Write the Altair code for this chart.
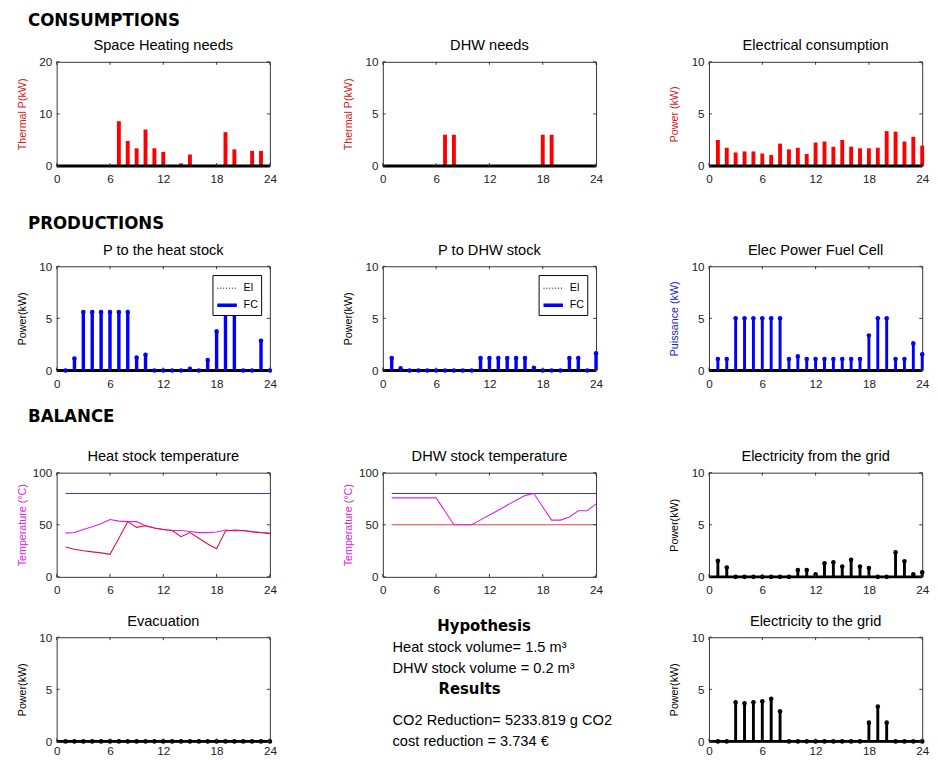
import altair as alt
import pandas as pd

# ---------------- data ----------------
hours = [1, 2, 3, 4, 5, 6, 7, 8, 9, 10, 11, 12, 13, 14, 15, 16, 17, 18, 19, 20, 21, 22, 23, 24]
x_ticks = [0, 6, 12, 18, 24]

# Space heating needs (kW)
sh_hours = [7, 8, 9, 10, 11, 12, 14, 15, 19, 20, 22, 23]
sh_vals = [8.6, 4.8, 3.4, 7.0, 3.4, 2.7, 0.5, 2.2, 6.5, 3.2, 2.9, 2.9]

# DHW needs (kW)
dhw_hours = [7, 8, 18, 19]
dhw_vals = [3.0, 3.0, 3.0, 3.0]

# Electrical consumption (kW), hours 1..24
elec_cons = [2.5, 1.75, 1.3, 1.4, 1.4, 1.2, 1.05, 2.15, 1.6, 1.75, 1.15, 2.25,
             2.35, 1.85, 2.5, 1.85, 1.7, 1.7, 1.75, 3.35, 3.3, 2.35, 2.8, 1.95]

# P to the heat stock (kW)
heat_fc = [0, 1.15, 5.6, 5.6, 5.6, 5.6, 5.6, 5.6, 1.25, 1.5, 0, 0,
           0, 0, 0.15, 0, 1.0, 3.75, 5.6, 5.6, 0, 0, 2.85, 0]
heat_el = [0, 0, 0, 0, 0, 0, 0, 0, 0, 0, 0, 0,
           0, 0, 0, 0, 0, 0, 0, 0, 0, 0, 0, 0]

# P to DHW stock (kW)
dhw_fc = [1.2, 0.2, 0, 0, 0, 0, 0, 0, 0, 0, 1.2, 1.2,
          1.2, 1.2, 1.2, 1.2, 0.25, 0, 0, 0, 1.2, 1.2, 0, 1.65]
dhw_el = [0, 0, 0, 0, 0, 0, 0, 0, 0, 0, 0, 0,
          0, 0, 0, 0, 0, 0, 0, 0, 0, 0, 0, 0]

# Elec power fuel cell (kW)
fc_elec = [1.1, 1.1, 5.0, 5.0, 5.0, 5.0, 5.0, 5.0, 1.1, 1.35, 1.1, 1.1,
           1.1, 1.1, 1.1, 1.1, 1.1, 3.35, 5.0, 5.0, 1.1, 1.1, 2.6, 1.55]

# Heat stock temperature (°C)
heat_max = [80, 80, 80, 80, 80, 80, 80, 80, 80, 80, 80, 80,
            80, 80, 80, 80, 80, 80, 80, 80, 80, 80, 80, 80]
heat_top = [42, 42.5, 45.5, 48, 51, 55, 53.5, 53, 53, 49, 47, 45.5,
            44.5, 44.5, 43.5, 42.5, 42.5, 43, 45, 44, 44.5, 43.5, 42.5, 42]
heat_bot = [28.6, 26.5, 25, 24, 23, 21.6, 37, 53, 47.5, 49, 47, 45.5,
            44.5, 38.5, 42.5, 37, 31.5, 27, 44, 45, 44.5, 43, 42.5, 41.5]

# DHW stock temperature (°C)
dhw_max = [80, 80, 80, 80, 80, 80, 80, 80, 80, 80, 80, 80,
           80, 80, 80, 80, 80, 80, 80, 80, 80, 80, 80, 80]
dhw_min = [50, 50, 50, 50, 50, 50, 50, 50, 50, 50, 50, 50,
           50, 50, 50, 50, 50, 50, 50, 50, 50, 50, 50, 50]
dhw_temp = [75.8, 75.8, 75.8, 75.8, 75.8, 75.8, 63, 50, 50, 50, 54.7, 59.4,
            64, 68.8, 73.5, 78, 80, 67, 54.5, 54.5, 57.5, 63.5, 63.5, 70]

# Electricity from / to the grid, evacuation (kW)
grid_in = [1.55, 0.9, 0, 0, 0, 0, 0, 0, 0, 0.65, 0.65, 0.25,
           1.3, 1.4, 1.0, 1.65, 1.0, 0.85, 0, 0, 2.35, 1.5, 0.25, 0.45]
grid_out = [0, 0, 3.75, 3.65, 3.75, 3.85, 4.1, 2.9, 0, 0, 0, 0,
            0, 0, 0, 0, 0, 1.8, 3.35, 1.8, 0, 0, 0, 0]
evacuation = [0, 0, 0, 0, 0, 0, 0, 0, 0, 0, 0, 0,
              0, 0, 0, 0, 0, 0, 0, 0, 0, 0, 0, 0]

# Text block
text_heads = ["Hypothesis", "Results"]
text_head_row = [0, 3]
text_head_x = [191, 176]
text_lines = ["Heat stock volume= 1.5 m³", "DHW stock volume = 0.2 m³",
              "CO2 Reduction= 5233.819 g CO2", "cost reduction = 3.734 €"]
text_line_row = [1, 2, 4.45, 5.45]
text_line_x = [97, 97, 97, 97]

# ---------------- style ----------------
FONT = "Liberation Sans"
HEAD_FONT = "DejaVu Sans Condensed"
W, H = 219, 107
W2 = 359
RED = "#ff0000"
BLUE = "#0000ff"
TRED = "#cc2222"
TBLUE = "#2222cc"
TMAG = "#dd22dd"
FRAME = "#333333"
LBLUE = "#3535e0"


def xenc(lp=8):
    return alt.X("hour:Q", scale=alt.Scale(domain=[0, 24], nice=False, zero=False, padding=0),
                 axis=alt.Axis(values=x_ticks, title=None, labelFlush=False, labelPadding=lp))


def yenc(ymax, yvals, title, tcolor):
    return alt.Y("val:Q", scale=alt.Scale(domain=[0, ymax], nice=False, padding=0),
                 axis=alt.Axis(values=yvals, title=title, titleColor=tcolor, labelFlush=False,
                               titleFontWeight="normal", titleFontSize=11))


def frame_ticks(ymax, yvals, title, tcolor, lp=8):
    xt = pd.DataFrame({"hour": x_ticks})
    yt = pd.DataFrame({"val": yvals})
    st = dict(color=FRAME, strokeWidth=1)
    Y = yenc(ymax, yvals, title, tcolor)
    return [
        alt.Chart(xt).mark_rule(**st).encode(x=xenc(lp), y=alt.value(H), y2=alt.value(H - 3)),
        alt.Chart(xt).mark_rule(**st).encode(x=xenc(lp), y=alt.value(0), y2=alt.value(3)),
        alt.Chart(yt).mark_rule(**st).encode(y=Y, x=alt.value(0), x2=alt.value(3)),
        alt.Chart(yt).mark_rule(**st).encode(y=Y, x=alt.value(W - 3), x2=alt.value(W)),
    ]


def baseline(ymax, yvals, title, tcolor):
    return alt.Chart(pd.DataFrame({"val": [0]})).mark_rule(color="black", strokeWidth=3).encode(
        y=yenc(ymax, yvals, title, tcolor))


def ptitle(t):
    return alt.TitleParams(t, font=FONT, fontSize=15, fontWeight="normal", color="black", offset=3)


def bar_panel(title, hrs, vals, ymax, yvals, ytitle):
    df = pd.DataFrame({"hour": hrs, "val": vals})
    Y = yenc(ymax, yvals, ytitle, TRED)
    bars = alt.Chart(df).mark_bar(color=RED, size=4).encode(x=xenc(), y=Y)
    return alt.layer(bars, baseline(ymax, yvals, ytitle, TRED),
                     *frame_ticks(ymax, yvals, ytitle, TRED)).properties(
        width=W, height=H, title=ptitle(title))


def stem_panel(title, vals, color, ytitle, tcolor, lp=8):
    df = pd.DataFrame({"hour": hours, "val": vals})
    Y = yenc(10, [0, 5, 10], ytitle, tcolor)
    stems = alt.Chart(df).mark_rule(color=color, strokeWidth=3).encode(x=xenc(lp), y=Y, y2=alt.datum(0))
    dots = alt.Chart(df).mark_circle(color=color, size=22, opacity=1).encode(x=xenc(lp), y=Y)
    return alt.layer(baseline(10, [0, 5, 10], ytitle, tcolor), stems, dots,
                     *frame_ticks(10, [0, 5, 10], ytitle, tcolor, lp)).properties(
        width=W, height=H, title=ptitle(title))


def legend_stem_panel(title, el_vals, fc_vals):
    ytitle = "Power(kW)"
    df = pd.DataFrame({"hour": hours + hours, "val": el_vals + fc_vals,
                       "series": ["El"] * len(hours) + ["FC"] * len(hours)})
    Y = yenc(10, [0, 5, 10], ytitle, "black")
    leg = alt.Legend(title=None, orient="top-right", offset=9, strokeColor="black",
                     fillColor="white", padding=3, labelFont=FONT, labelFontSize=11,
                     labelColor="black", symbolType="stroke", symbolSize=400, rowPadding=-5,
                     labelOffset=5)
    dom = ["El", "FC"]
    stems = alt.Chart(df).mark_rule().encode(
        x=xenc(), y=Y, y2=alt.datum(0),
        color=alt.Color("series:N", scale=alt.Scale(domain=dom, range=["black", BLUE]), legend=leg),
        strokeDash=alt.StrokeDash("series:N", scale=alt.Scale(domain=dom, range=[[1, 2], [1, 0]]), legend=leg),
        strokeWidth=alt.StrokeWidth("series:N", scale=alt.Scale(domain=dom, range=[1, 3.5]), legend=leg),
    )
    fc_df = pd.DataFrame({"hour": hours, "val": fc_vals})
    dots = alt.Chart(fc_df).mark_circle(color=BLUE, size=22, opacity=1).encode(x=xenc(), y=Y)
    return alt.layer(baseline(10, [0, 5, 10], ytitle, "black"), stems, dots,
                     *frame_ticks(10, [0, 5, 10], ytitle, "black")).properties(
        width=W, height=H, title=ptitle(title))


def line_panel(title, series):
    ytitle = "Temperature (°C)"
    Y = yenc(100, [0, 50, 100], ytitle, TMAG)
    layers = []
    for vals, col in series:
        df = pd.DataFrame({"hour": hours, "val": vals})
        layers.append(alt.Chart(df).mark_line(color=col, strokeWidth=1.1).encode(x=xenc(), y=Y))
    return alt.layer(*layers, *frame_ticks(100, [0, 50, 100], ytitle, TMAG)).properties(
        width=W, height=H, title=ptitle(title))


def text_panel():
    hd = pd.DataFrame({"txt": text_heads, "ty": text_head_row, "tx": text_head_x})
    bd = pd.DataFrame({"txt": text_lines, "ty": text_line_row, "tx": text_line_x})
    X = alt.X("tx:Q", scale=alt.Scale(domain=[0, W2]), axis=None)
    Yt = alt.Y("ty:Q", scale=alt.Scale(domain=[0.51, 0.51 + H / 21.5], reverse=True), axis=None)
    heads = alt.Chart(hd).mark_text(font=HEAD_FONT, fontSize=17, fontWeight="bold", align="center",
                                    baseline="middle", color="black").encode(x=X, y=Yt, text="txt:N")
    body = alt.Chart(bd).mark_text(font=FONT, fontSize=15, align="left", baseline="middle",
                                   color="black").encode(x=X, y=Yt, text="txt:N")
    return alt.layer(heads, body).properties(width=W2, height=H, title=ptitle(" "),
                                             view=alt.ViewBackground(stroke="transparent"))


def section(t, off):
    return alt.TitleParams(t, font=HEAD_FONT, fontSize=19, fontWeight="bold", color="black",
                           anchor="start", offset=off, dx=12)


indep = dict(color="independent", strokeDash="independent", strokeWidth="independent")

p1 = bar_panel("Space Heating needs", sh_hours, sh_vals, 20, [0, 10, 20], "Thermal P(kW)")
p2 = bar_panel("DHW needs", dhw_hours, dhw_vals, 10, [0, 5, 10], "Thermal P(kW)")
p3 = bar_panel("Electrical consumption", hours, elec_cons, 10, [0, 5, 10], "Power (kW)")

q1 = legend_stem_panel("P to the heat stock", heat_el, heat_fc)
q2 = legend_stem_panel("P to DHW stock", dhw_el, dhw_fc)
q3 = stem_panel("Elec Power Fuel Cell", fc_elec, BLUE, "Puissance (kW)", TBLUE)

r1 = line_panel("Heat stock temperature", [(heat_max, LBLUE), (heat_top, "#dd22dd"), (heat_bot, "#dd1144")])
r2 = line_panel("DHW stock temperature", [(dhw_max, LBLUE), (dhw_min, "#e04444"), (dhw_temp, "#dd22dd")])
r3 = stem_panel("Electricity from the grid", grid_in, "black", "Power(kW)", "black")

s1 = stem_panel("Evacuation", evacuation, "black", "Power(kW)", "black", lp=4)
s2 = text_panel()
s3 = stem_panel("Electricity to the grid", grid_out, "black", "Power(kW)", "black", lp=4)

SP = 66
row1 = alt.hconcat(p1, p2, p3, spacing=SP, title=section("CONSUMPTIONS", 8)).resolve_scale(**indep)
row2 = alt.hconcat(q1, q2, q3, spacing=SP, title=section("PRODUCTIONS", 10)).resolve_scale(**indep)
row3 = alt.hconcat(r1, r2, r3, spacing=SP, title=section("BALANCE", 24)).resolve_scale(**indep)
row4 = alt.hconcat(s1, s2, s3, spacing=20).resolve_scale(**indep)

part34 = alt.vconcat(row3, row4, spacing=3).resolve_scale(**indep)
part234 = alt.vconcat(row2, part34, spacing=17).resolve_scale(**indep)

chart = alt.vconcat(row1, part234, spacing=29).resolve_scale(**indep).properties(
    padding={"left": 8, "top": -7, "right": 0, "bottom": 0}, background="white"
).configure_view(stroke=FRAME, strokeWidth=1).configure_axis(
    labelFont=FONT, labelFontSize=12, labelColor="#222222", tickSize=0, domain=False, grid=False,
    titleFont=FONT, titleFontSize=11, titleFontWeight="normal", titlePadding=10, labelPadding=5
).configure_axisY(minExtent=20, maxExtent=20)

chart.save("out.html", embed_options={"renderer": "svg", "actions": False})
